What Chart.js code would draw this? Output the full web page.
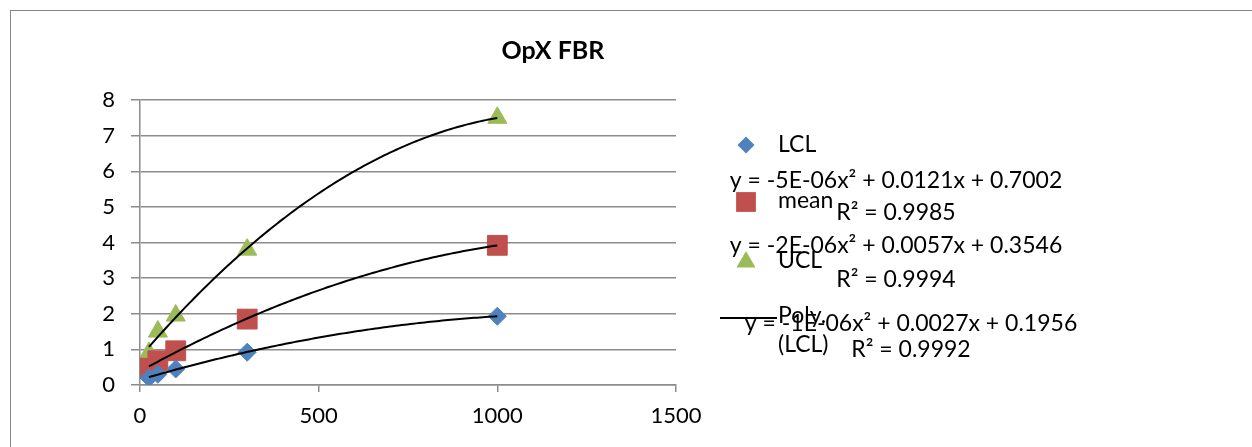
<!DOCTYPE html>
<html>
<head>
<meta charset="utf-8">
<script src="https://cdn.jsdelivr.net/npm/chart.js@4.4.0/dist/chart.umd.min.js"></script>
<style>
  html, body { margin: 0; padding: 0; background: #fff; }
  #contenedor { width: 1252px; height: 447px; }
</style>
</head>
<body>
<div id="contenedor"><canvas id="grafica" width="1252" height="447"></canvas></div>
<script>
// Datos
const concentraciones = [25, 50, 100, 300, 1000];
const valoresLCL = [0.2, 0.3, 0.45, 0.92, 1.93];
const valoresMean = [0.47, 0.68, 0.96, 1.85, 3.92];
const valoresUCL = [0.9, 1.5, 1.95, 3.8, 7.5];
const nombresSeries = ['LCL', 'mean', 'UCL'];
const ecuaciones = [
    'y = -5E-06x² + 0.0121x + 0.7002',
    'y = -2E-06x² + 0.0057x + 0.3546',
    'y = -1E-06x² + 0.0027x + 0.1956'
];
const textosR2 = ['R² = 0.9985', 'R² = 0.9994', 'R² = 0.9992'];
const ticksX = [0, 500, 1000, 1500];
const ticksY = [0, 1, 2, 3, 4, 5, 6, 7, 8];
const titulo = 'OpX FBR';

const colores = ['#4F81BD', '#C0504D', '#9BBB59'];
const formas = ['rectRot', 'rect', 'triangle'];
const radios = [9, 14, 11];
const fuente = 'Lato, "Open Sans", sans-serif';

// Ajuste polinómico de grado 2 por mínimos cuadrados (como la línea de tendencia de Excel)
function ajustePolinomico(xs, ys) {
    let s = [0, 0, 0, 0, 0], t = [0, 0, 0];
    for (let i = 0; i < xs.length; i++) {
        let p = 1;
        for (let k = 0; k < 5; k++) { s[k] += p; if (k < 3) t[k] += p * ys[i]; p *= xs[i]; }
    }
    const m = [[s[0], s[1], s[2], t[0]], [s[1], s[2], s[3], t[1]], [s[2], s[3], s[4], t[2]]];
    for (let c = 0; c < 3; c++) {
        for (let r = c + 1; r < 3; r++) {
            const f = m[r][c] / m[c][c];
            for (let k = c; k < 4; k++) m[r][k] -= f * m[c][k];
        }
    }
    const coef = [0, 0, 0];
    for (let r = 2; r >= 0; r--) {
        let v = m[r][3];
        for (let k = r + 1; k < 3; k++) v -= m[r][k] * coef[k];
        coef[r] = v / m[r][r];
    }
    return coef; // [c0, c1, c2]
}

function puntosTendencia(xs, ys) {
    const c = ajustePolinomico(xs, ys);
    const desde = xs[0], hasta = xs[xs.length - 1];
    const puntos = [];
    for (let i = 0; i <= 120; i++) {
        const x = desde + (hasta - desde) * i / 120;
        puntos.push({ x: x, y: c[0] + c[1] * x + c[2] * x * x });
    }
    return puntos;
}

const series = [valoresLCL, valoresMean, valoresUCL];
const datasets = [];
series.forEach((vals, i) => {
    datasets.push({
        label: 'Poly. (' + nombresSeries[i] + ')',
        data: puntosTendencia(concentraciones, vals),
        showLine: true,
        borderColor: '#000',
        borderWidth: 2,
        pointRadius: 0,
        order: 0
    });
});
series.forEach((vals, i) => {
    datasets.push({
        label: nombresSeries[i],
        data: concentraciones.map((x, j) => ({ x: x, y: vals[j] })),
        pointStyle: formas[i],
        pointRadius: radios[i],
        backgroundColor: colores[i],
        borderColor: colores[i],
        borderWidth: 1,
        order: 1
    });
});

function dibujarMarcador(ctx, forma, x, y, r, color) {
    ctx.save();
    ctx.fillStyle = color;
    ctx.beginPath();
    if (forma === 'rectRot') {
        ctx.moveTo(x - r, y); ctx.lineTo(x, y - r); ctx.lineTo(x + r, y); ctx.lineTo(x, y + r);
    } else if (forma === 'rect') {
        const a = r * Math.SQRT1_2;
        ctx.rect(x - a, y - a, 2 * a, 2 * a);
    } else {
        ctx.moveTo(x, y - r);
        ctx.lineTo(x + r * 0.866, y + r * 0.5);
        ctx.lineTo(x - r * 0.866, y + r * 0.5);
    }
    ctx.closePath();
    ctx.fill();
    ctx.restore();
}

// Marco, título, leyenda y ecuaciones
const pluginDecoracion = {
    id: 'decoracion',
    beforeDraw(chart) {
        const ctx = chart.ctx;
        ctx.save();
        ctx.fillStyle = '#fff';
        ctx.fillRect(0, 0, chart.width, chart.height);
        ctx.strokeStyle = '#868686';
        ctx.lineWidth = 1;
        ctx.strokeRect(10.5, 10.5, 1400, 600);
        ctx.restore();
    },
    afterDraw(chart) {
        const ctx = chart.ctx;
        ctx.save();
        ctx.fillStyle = '#000';
        ctx.textBaseline = 'middle';
        ctx.textAlign = 'center';
        ctx.font = 'bold 25px ' + fuente;
        ctx.fillText(titulo, 553, 51);

        // leyenda
        const yLeyenda = [145, 202, 262];
        const yTexto = [145, 201, 261];
        ctx.font = '23px ' + fuente;
        ctx.textAlign = 'left';
        nombresSeries.forEach((n, i) => {
            const r = formas[i] === 'rectRot' ? 8.5 : (formas[i] === 'rect' ? 14 : 11);
            dibujarMarcador(ctx, formas[i], 746, yLeyenda[i], r, colores[i]);
            ctx.fillText(n, 778, yTexto[i]);
        });
        ctx.strokeStyle = '#000';
        ctx.lineWidth = 2;
        ctx.beginPath();
        ctx.moveTo(720, 318);
        ctx.lineTo(777, 318);
        ctx.stroke();
        ctx.fillText('Poly.', 778, 316);
        ctx.fillText('(' + nombresSeries[0] + ')', 778, 345);

        // ecuaciones de las líneas de tendencia
        const centros = [896, 896, 911];
        const yEc = [181, 246, 324];
        const yR2 = [213, 280, 350];
        ctx.textAlign = 'center';
        ecuaciones.forEach((e, i) => {
            ctx.fillText(e, centros[i], yEc[i]);
            ctx.fillText(textosR2[i], centros[i], yR2[i]);
        });
        ctx.restore();
    }
};

const colorRejilla = '#8c8c8c';
new Chart(document.getElementById('grafica'), {
    type: 'scatter',
    data: { datasets: datasets },
    plugins: [pluginDecoracion],
    options: {
        responsive: false,
        animation: false,
        layout: { padding: { left: 0, top: 100, right: 576, bottom: 0 } },
        plugins: { legend: { display: false }, tooltip: { enabled: false }, title: { display: false } },
        scales: {
            x: {
                type: 'linear',
                min: 0,
                max: 1500,
                afterBuildTicks: s => { s.ticks = ticksX.map(v => ({ value: v })); },
                afterFit: s => { s.height = 62; },
                grid: { drawOnChartArea: false, drawTicks: true, tickLength: 7, color: colorRejilla, lineWidth: 1.5 },
                border: { color: colorRejilla, width: 1.5 },
                ticks: { color: '#000', font: { family: fuente, size: 22 }, padding: 11, maxRotation: 0, callback: v => String(v) }
            },
            y: {
                type: 'linear',
                min: 0,
                max: 8,
                afterBuildTicks: s => { s.ticks = ticksY.map(v => ({ value: v })); },
                afterFit: s => { s.width = 140; },
                grid: { drawTicks: true, tickLength: 9, color: colorRejilla, lineWidth: 1.5 },
                border: { color: colorRejilla, width: 1.5 },
                ticks: { color: '#000', font: { family: fuente, size: 22 }, padding: 16, callback: v => String(v) }
            }
        }
    }
});
</script>
</body>
</html>
